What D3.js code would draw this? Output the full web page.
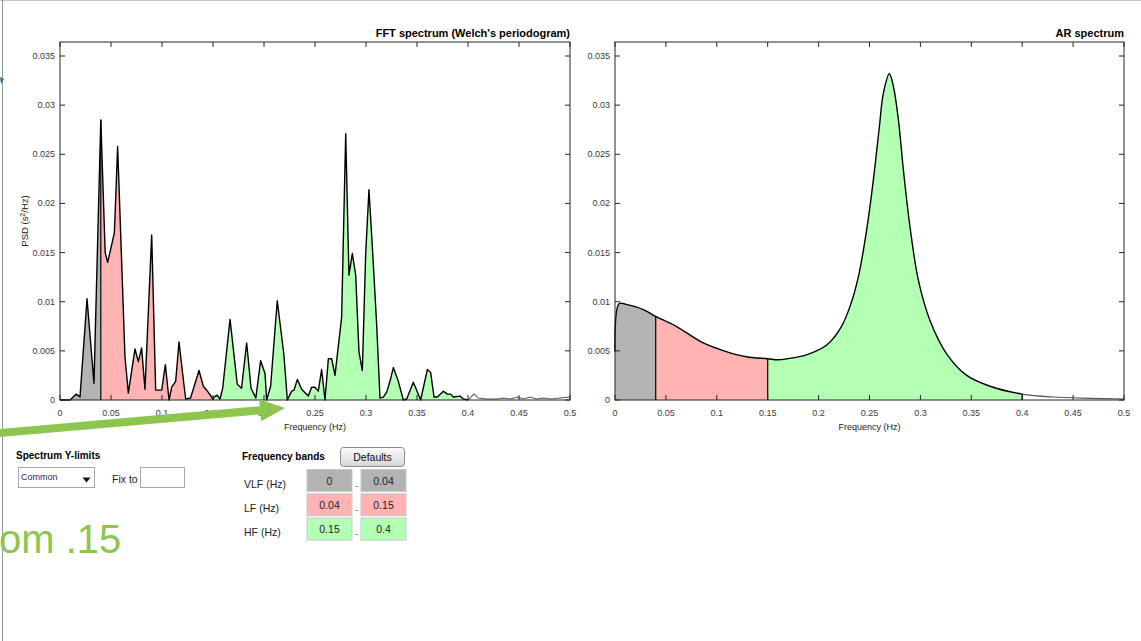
<!DOCTYPE html>
<html><head><meta charset="utf-8">
<script src="https://cdn.jsdelivr.net/npm/d3@7"></script>
<style>
body{margin:0;background:#fff}
svg{display:block}
text{font-family:"Liberation Sans",Arial,Helvetica,sans-serif}
</style>
</head><body>
<svg id="c" width="1141" height="641"></svg>
<script>
// ---------- data ----------
const fftFreq=[0,0.0098,0.016,0.0196,0.0265,0.0333,0.04,0.0443,0.0467,0.0533,0.0565,0.0637,0.067,0.0735,0.0768,0.08,0.0833,0.0899,0.0938,0.0997,0.1033,0.1069,0.1095,0.1134,0.1167,0.12,0.1232,0.128,0.1363,0.1405,0.1438,0.15,0.151,0.154,0.1569,0.1595,0.1667,0.1738,0.178,0.183,0.1873,0.192,0.1967,0.201,0.2026,0.2065,0.213,0.2195,0.2229,0.2271,0.2294,0.2327,0.2369,0.2434,0.2467,0.25,0.2532,0.2565,0.2598,0.2631,0.2663,0.2696,0.2761,0.2801,0.2833,0.2866,0.2899,0.2931,0.2964,0.2997,0.3029,0.3065,0.3105,0.3137,0.317,0.3203,0.3235,0.3268,0.3317,0.3366,0.3399,0.3464,0.3536,0.3601,0.3634,0.3667,0.37,0.3758,0.3797,0.383,0.3856,0.3922,0.3954,0.4,0.4059,0.4101,0.4183,0.4232,0.428,0.4346,0.4412,0.4493,0.4542,0.4608,0.4673,0.4739,0.482,0.4902,0.5];
const fftPSD=[0,0,0.0006,0.0003,0.0103,0.0017,0.0285,0.015,0.014,0.017,0.0258,0.0044,0.0007,0.0052,0.0039,0.0053,0.0011,0.0168,0.001,0.001,0.0036,0,0.0013,0.0019,0.0059,0.0029,0.0001,0.0002,0.003,0.0014,0.001,0.0001,0.0003,0.0005,0.0001,0.0012,0.0082,0.0016,0.0012,0.0058,0.0012,0.0002,0.004,0.0027,0,0.0014,0.0101,0.0046,0,0.0009,0.001,0.0021,0.0011,0.0004,0.0013,0.0013,0.0009,0.0031,0,0.0042,0.0042,0.0025,0.0084,0.0271,0.0127,0.0149,0.0127,0.0049,0.003,0.0149,0.0214,0.0151,0.0076,0.0002,0.0003,0.0008,0.0019,0.0033,0.0019,0,0.0001,0.0018,0,0.0031,0.0028,0.0003,0.0003,0.0009,0.0006,0.0006,0.0003,0.0004,0.0001,0,0.0006,0.0002,0.0001,0.0001,0.0001,0.0002,0.0001,0.0003,0.0001,0.0003,0.0001,0.0002,0.0001,0.0002,0.0003];
const arFreq=[0,0.004,0.012,0.02,0.03,0.04,0.06,0.0867,0.11,0.129,0.15,0.16,0.169,0.188,0.208,0.222,0.2308,0.239,0.2472,0.2538,0.2597,0.2636,0.2695,0.2735,0.2784,0.2833,0.2898,0.298,0.3094,0.3258,0.3455,0.3684,0.4,0.4305,0.467,0.5];
const arPSD=[0.0049,0.0098,0.0097,0.0095,0.0091,0.0085,0.0075,0.0058,0.0049,0.0044,0.0042,0.0041,0.0042,0.0046,0.0056,0.0074,0.0095,0.0125,0.0173,0.0224,0.0278,0.0312,0.0332,0.0319,0.0285,0.0234,0.0176,0.0122,0.0081,0.0047,0.0025,0.0014,0.0006,0.0003,0.00017,0.0001];

const bandNames=["VLF (Hz)","LF (Hz)","HF (Hz)"];
const bandLo=[0,0.04,0.15];
const bandHi=[0.04,0.15,0.4];
const bandLoLabels=["0","0.04","0.15"];
const bandHiLabels=["0.04","0.15","0.4"];
const bandColors=["#b3b3b3","#ffb3b3","#b3ffb3"];

const xTicks=[0,0.05,0.1,0.15,0.2,0.25,0.3,0.35,0.4,0.45,0.5];
const xTickLabels=["0","0.05","0.1","0.15","0.2","0.25","0.3","0.35","0.4","0.45","0.5"];
const yTicks=[0,0.005,0.01,0.015,0.02,0.025,0.03,0.035];
const yTickLabels=["0","0.005","0.01","0.015","0.02","0.025","0.03","0.035"];

const titles=["FFT spectrum (Welch's periodogram)","AR spectrum"];

// ---------- drawing ----------
const svg=d3.select("#c");
svg.append("rect").attr("width",1141).attr("height",641).attr("fill","#fff");
// window edges
svg.append("line").attr("x1",0).attr("x2",1141).attr("y1",0.5).attr("y2",0.5).attr("stroke","#c8c8c8");
svg.append("line").attr("x1",2.5).attr("x2",2.5).attr("y1",0).attr("y2",641).attr("stroke","#8e979c");
svg.append("path").attr("d","M0,77 L4,79 L1,84 Z").attr("fill","#2b6f95");

const defs=svg.append("defs");
const plotTop=42,plotBottom=400;
const yMax=0.035*(plotBottom-plotTop)/344;

function panel(idx,freq,psd,left,right,curve){
  const x=d3.scaleLinear().domain([0,0.5]).range([left,right]);
  const y=d3.scaleLinear().domain([0,yMax]).range([plotBottom,plotTop]);
  const g=svg.append("g");
  const pts=freq.map((f,i)=>[f,psd[i]]);
  const area=d3.area().x(d=>x(d[0])).y0(y(0)).y1(d=>y(d[1])).curve(curve);
  const line=d3.line().x(d=>x(d[0])).y(d=>y(d[1])).curve(curve);
  // band fills
  bandLo.forEach((lo,b)=>{
    const id="clip"+idx+"_"+b;
    defs.append("clipPath").attr("id",id).append("rect")
      .attr("x",x(lo)).attr("y",plotTop).attr("width",x(bandHi[b])-x(lo)).attr("height",plotBottom-plotTop);
    g.append("path").attr("d",area(pts)).attr("fill",bandColors[b]).attr("clip-path","url(#"+id+")");
  });
  // outline within bands
  const idIn="clipIn"+idx, idOut="clipOut"+idx;
  defs.append("clipPath").attr("id",idIn).append("rect")
    .attr("x",x(0)-2).attr("y",plotTop-2).attr("width",x(bandHi[2])-x(0)+2).attr("height",plotBottom-plotTop+4);
  defs.append("clipPath").attr("id",idOut).append("rect")
    .attr("x",x(bandHi[2])).attr("y",plotTop-2).attr("width",x(0.5)-x(bandHi[2])+2).attr("height",plotBottom-plotTop+4);
  g.append("path").attr("d",line(pts)).attr("fill","none").attr("stroke","#5a5a5a").attr("stroke-width",1.1).attr("clip-path","url(#"+idOut+")");
  g.append("path").attr("d",line(pts)).attr("fill","none").attr("stroke","#000").attr("stroke-width",1.4)
    .attr("stroke-linejoin","round").attr("clip-path","url(#"+idIn+")");
  // band boundary edges
  const bounds=[bandLo[1],bandLo[2],bandHi[2]];
  bounds.forEach(bf=>{
    const i=freq.indexOf(bf);
    if(i<0) return;
    g.append("line").attr("x1",x(bf)).attr("x2",x(bf)).attr("y1",y(0)).attr("y2",y(psd[i]))
      .attr("stroke","#000").attr("stroke-width",1.2);
  });
  // box
  g.append("rect").attr("x",left).attr("y",plotTop).attr("width",right-left).attr("height",plotBottom-plotTop)
    .attr("fill","none").attr("stroke","#262626").attr("stroke-width",1);
  // ticks
  const tl=5;
  xTicks.forEach((t,i)=>{
    g.append("line").attr("x1",x(t)).attr("x2",x(t)).attr("y1",plotBottom).attr("y2",plotBottom-tl).attr("stroke","#262626");
    g.append("line").attr("x1",x(t)).attr("x2",x(t)).attr("y1",plotTop).attr("y2",plotTop+tl).attr("stroke","#262626");
    g.append("text").attr("x",x(t)).attr("y",plotBottom+16).attr("text-anchor","middle")
      .attr("font-size",9).attr("fill","#3a3a3a").text(xTickLabels[i]);
  });
  yTicks.forEach((t,i)=>{
    g.append("line").attr("x1",left).attr("x2",left+tl).attr("y1",y(t)).attr("y2",y(t)).attr("stroke","#262626");
    g.append("line").attr("x1",right).attr("x2",right-tl).attr("y1",y(t)).attr("y2",y(t)).attr("stroke","#262626");
    g.append("text").attr("x",left-5).attr("y",y(t)+3).attr("text-anchor","end")
      .attr("font-size",9).attr("fill","#3a3a3a").text(yTickLabels[i]);
  });
  g.append("text").attr("x",(left+right)/2).attr("y",430).attr("text-anchor","middle")
    .attr("font-size",9).attr("fill","#1a1a1a").text("Frequency (Hz)");
  g.append("text").attr("x",right).attr("y",37).attr("text-anchor","end")
    .attr("font-size",11).attr("font-weight","bold").attr("fill","#000").text(titles[idx]);
  return g;
}

panel(0,fftFreq,fftPSD,60,570,d3.curveLinear);
panel(1,arFreq,arPSD,615,1124,d3.curveCatmullRom.alpha(0.5));

// y label
const yl=svg.append("text").attr("transform","translate(28,221) rotate(-90)").attr("text-anchor","middle")
  .attr("font-size",9.5).attr("fill","#1a1a1a");
yl.append("tspan").text("PSD (s");
yl.append("tspan").attr("dy",-3.5).attr("font-size",7).text("2");
yl.append("tspan").attr("dy",3.5).text("/Hz)");

// ---------- controls ----------
const ctl=svg.append("g");
ctl.append("text").attr("x",16).attr("y",459).attr("font-size",10).attr("font-weight","bold").text("Spectrum Y-limits");
ctl.append("rect").attr("x",18.5).attr("y",467.5).attr("width",76).attr("height",20).attr("fill","#fff").attr("stroke","#a8a8a8");
ctl.append("text").attr("x",21).attr("y",480).attr("font-size",9).attr("fill","#1c2a6b").text("Common");
ctl.append("path").attr("d","M82.5,477.5 L90.5,477.5 L86.5,482.5 Z").attr("fill","#111");
ctl.append("text").attr("x",112).attr("y",483).attr("font-size",10.5).attr("fill","#222").text("Fix to");
ctl.append("rect").attr("x",140.5).attr("y",467.5).attr("width",44).attr("height",20).attr("fill","#fff").attr("stroke","#a8a8a8");

ctl.append("text").attr("x",242).attr("y",460).attr("font-size",10).attr("font-weight","bold").text("Frequency bands");
const grad=defs.append("linearGradient").attr("id","btn").attr("x1",0).attr("x2",0).attr("y1",0).attr("y2",1);
grad.append("stop").attr("offset","0%").attr("stop-color","#fbfbfb");
grad.append("stop").attr("offset","100%").attr("stop-color","#d6d6d6");
ctl.append("rect").attr("x",340.5).attr("y",447.5).attr("width",64).attr("height",19).attr("rx",3)
  .attr("fill","url(#btn)").attr("stroke","#8a8a8a");
ctl.append("text").attr("x",372.5).attr("y",461).attr("text-anchor","middle").attr("font-size",10.5).attr("fill","#111").text("Defaults");

bandNames.forEach((n,i)=>{
  const y0=469.5+i*24.3;
  ctl.append("text").attr("x",244).attr("y",y0+18).attr("font-size",10.5).attr("fill","#222").text(n);
  ctl.append("rect").attr("x",307).attr("y",y0).attr("width",45).attr("height",22).attr("fill",bandColors[i]).attr("stroke","#c8c8c8");
  ctl.append("rect").attr("x",361).attr("y",y0).attr("width",45).attr("height",22).attr("fill",bandColors[i]).attr("stroke","#c8c8c8");
  ctl.append("text").attr("x",329.5).attr("y",y0+15).attr("text-anchor","middle").attr("font-size",10.5).attr("fill","#222").text(bandLoLabels[i]);
  ctl.append("text").attr("x",383.5).attr("y",y0+15).attr("text-anchor","middle").attr("font-size",10.5).attr("fill","#222").text(bandHiLabels[i]);
  ctl.append("text").attr("x",356.5).attr("y",y0+19).attr("text-anchor","middle").attr("font-size",9).attr("fill","#555").text("-");
});

// ---------- annotation ----------
svg.append("line").attr("x1",-2).attr("y1",433.2).attr("x2",261).attr("y2",410.2)
  .attr("stroke","#8dc54f").attr("stroke-width",8);
svg.append("path").attr("d","M285,408 L261.1,421.2 L259.1,399.3 Z").attr("fill","#8dc54f");
svg.append("text").attr("x",-1).attr("y",553).attr("font-family","'Open Sans',sans-serif").attr("font-size",40)
  .attr("fill","#8dc54f").text("om .15");
</script>
</body></html>
